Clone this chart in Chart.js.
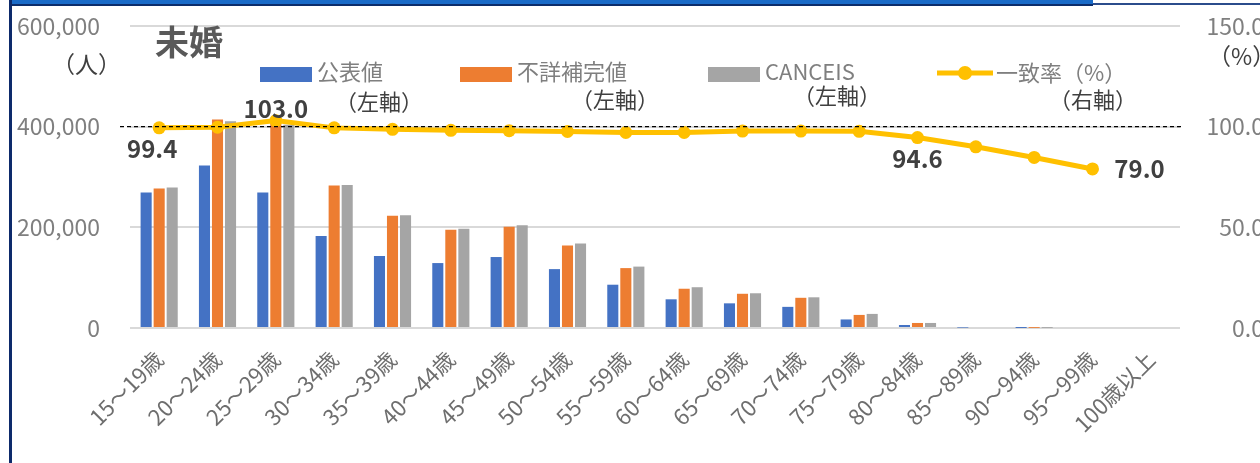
<!DOCTYPE html>
<html lang="ja">
<head>
<meta charset="UTF-8" />
<title>未婚</title>
<script src="https://cdn.jsdelivr.net/npm/chart.js"></script>
<style>
  body { margin: 0; overflow: hidden; background: #fff; }
  .frame { position: relative; width: 1260px; height: 463px; overflow: hidden; }
  .top-bar { position: absolute; left: 9px; top: 0; width: 1084px; height: 4px; background: #1a6bc8; border-bottom: 2px solid #0c2d6b; }
  .top-line { position: absolute; left: 1093px; top: 3px; width: 167px; height: 2px; background: #2b4c8c; }
  .left-line { position: absolute; left: 9px; top: 0; width: 2.5px; height: 463px; background: #0d2a6b; }
  #chart { position: absolute; left: 0; top: 0; }
</style>
</head>
<body>
<div class="frame">
  <canvas id="chart" width="1264" height="463"></canvas>
  <div class="top-bar"></div>
  <div class="top-line"></div>
  <div class="left-line"></div>
</div>
<script>
  const ageLabels = ['15～19歳', '20～24歳', '25～29歳', '30～34歳', '35～39歳', '40～44歳', '45～49歳',
    '50～54歳', '55～59歳', '60～64歳', '65～69歳', '70～74歳', '75～79歳', '80～84歳', '85～89歳',
    '90～94歳', '95～99歳', '100歳以上'];

  // 人数（左軸）
  const publishedValues = [269000, 323000, 269000, 183000, 143000, 129000, 141000, 117000, 86000,
    57000, 49000, 42000, 17000, 6000, 800, 100, 0, 0];
  const imputedValues = [277000, 414000, 407000, 283000, 223000, 195000, 201000, 164000, 119000,
    78000, 68000, 60000, 26000, 10000, 2000, 300, 0, 0];
  const canceisValues = [279000, 411000, 404000, 284000, 224000, 197000, 204000, 168000, 122000,
    81000, 69000, 61000, 28000, 10000, 2000, 300, 0, 0];

  // 一致率（右軸）
  const matchRate = [99.4, 99.7, 103.0, 99.4, 98.7, 98.2, 98.0, 97.6, 97.1, 97.1, 97.8, 97.8, 97.7,
    94.6, 90.0, 84.7, 79.0, null];
  const labeledPoints = [0, 2, 13, 16];
  const referenceRate = 100;

  const chartFont = "'Noto Sans CJK JP', 'Noto Sans', sans-serif";

  const overlayPlugin = {
    id: 'overlay',
    afterDatasetsDraw(chart) {
      const ctx = chart.ctx;
      const area = chart.chartArea;
      const y = chart.scales.yRight.getPixelForValue(referenceRate);
      ctx.save();
      ctx.strokeStyle = '#000';
      ctx.lineWidth = 1.3;
      ctx.setLineDash([4, 3]);
      ctx.beginPath();
      ctx.moveTo(area.left - 10, y);
      ctx.lineTo(area.right + 2, y);
      ctx.stroke();
      ctx.restore();
    },
    afterDraw(chart) {
      const ctx = chart.ctx;
      ctx.save();

      // title + units
      ctx.fillStyle = '#595959';
      ctx.font = 'bold 34px ' + chartFont;
      ctx.textBaseline = 'middle';
      ctx.textAlign = 'left';
      ctx.fillText('未婚', 155, 42);
      ctx.fillStyle = '#404040';
      ctx.font = '23px ' + chartFont;
      ctx.fillText('（人）', 52, 64);
      ctx.fillText('（%）', 1208, 56);

      // match-rate labels
      const meta = chart.getDatasetMeta(0);
      const offsets = { 0: [-7, 21], 2: [0, -12], 13: [0, 21], 16: [47, 0] };
      ctx.font = 'bold 24px ' + chartFont;
      ctx.fillStyle = '#404040';
      ctx.textAlign = 'center';
      labeledPoints.forEach(i => {
        const pt = meta.data[i];
        const off = offsets[i];
        ctx.fillText(matchRate[i].toFixed(1), pt.x + off[0], pt.y + off[1]);
      });

      // legend
      const ds = chart.data.datasets;
      const items = [
        { d: ds[1], x: 260, sub: '（左軸）', subX: 335, subY: 102 },
        { d: ds[2], x: 460, sub: '（左軸）', subX: 571, subY: 100 },
        { d: ds[3], x: 708, sub: '（左軸）', subX: 793, subY: 96 }
      ];
      ctx.textAlign = 'left';
      items.forEach(it => {
        ctx.fillStyle = it.d.backgroundColor;
        ctx.fillRect(it.x, 67, 52, 15);
        ctx.fillStyle = '#7F7F7F';
        ctx.font = '22px ' + chartFont;
        ctx.fillText(it.d.label, it.x + 57, 72);
        ctx.fillStyle = '#404040';
        ctx.fillText(it.sub, it.subX, it.subY);
      });
      const line = ds[0];
      ctx.strokeStyle = line.borderColor;
      ctx.lineWidth = 5;
      ctx.beginPath();
      ctx.moveTo(937, 73);
      ctx.lineTo(993, 73);
      ctx.stroke();
      ctx.fillStyle = line.borderColor;
      ctx.beginPath();
      ctx.arc(965, 73, 7, 0, Math.PI * 2);
      ctx.fill();
      ctx.fillStyle = '#7F7F7F';
      ctx.font = '22px ' + chartFont;
      ctx.fillText(line.label, 996, 73);
      ctx.fillStyle = '#404040';
      ctx.fillText('（右軸）', 1049, 100);

      ctx.restore();
    }
  };

  new Chart(document.getElementById('chart'), {
    data: {
      labels: ageLabels,
      datasets: [
        {
          type: 'line',
          label: '一致率（%）',
          data: matchRate,
          yAxisID: 'yRight',
          borderColor: '#FFC000',
          backgroundColor: '#FFC000',
          borderWidth: 5,
          pointRadius: 6.5,
          pointHoverRadius: 6.5,
          pointBackgroundColor: '#FFC000',
          pointBorderWidth: 0,
          spanGaps: false,
          order: 0
        },
        {
          type: 'bar',
          label: '公表値',
          data: publishedValues,
          yAxisID: 'yLeft',
          backgroundColor: '#4472C4',
          categoryPercentage: 0.67,
          barPercentage: 0.85,
          order: 1
        },
        {
          type: 'bar',
          label: '不詳補完値',
          data: imputedValues,
          yAxisID: 'yLeft',
          backgroundColor: '#ED7D31',
          categoryPercentage: 0.67,
          barPercentage: 0.85,
          order: 1
        },
        {
          type: 'bar',
          label: 'CANCEIS',
          data: canceisValues,
          yAxisID: 'yLeft',
          backgroundColor: '#A5A5A5',
          categoryPercentage: 0.67,
          barPercentage: 0.85,
          order: 1
        }
      ]
    },
    options: {
      responsive: false,
      animation: false,
      devicePixelRatio: 1,
      layout: { padding: { top: 26, left: 0, right: 0, bottom: 0 } },
      plugins: {
        legend: { display: false },
        tooltip: { enabled: false }
      },
      scales: {
        x: {
          grid: { display: false },
          border: { display: false },
          ticks: {
            color: '#6E6E6E',
            font: { family: chartFont, size: 22 },
            minRotation: 45,
            maxRotation: 45,
            padding: 10,
            autoSkip: false
          },
          afterFit(scale) { scale.height = 135; }
        },
        yLeft: {
          position: 'left',
          min: 0,
          max: 600000,
          border: { display: false },
          grid: { color: '#D9D9D9', lineWidth: 2, drawTicks: true, tickLength: 30, tickColor: 'rgba(0,0,0,0)' },
          ticks: {
            stepSize: 200000,
            color: '#7F7F7F',
            padding: 0,
            font: { family: chartFont, size: 23 },
            callback: v => v.toLocaleString('en-US')
          },
          afterFit(scale) { scale.width = 130; }
        },
        yRight: {
          position: 'right',
          min: 0,
          max: 150,
          border: { display: false },
          grid: { display: true, drawOnChartArea: false, drawTicks: true, tickLength: 10, tickColor: 'rgba(0,0,0,0)' },
          ticks: {
            stepSize: 50,
            color: '#7F7F7F',
            padding: 0,
            crossAlign: 'far',
            font: { family: chartFont, size: 23 },
            callback: v => v.toFixed(1)
          },
          afterFit(scale) { scale.width = 84; }
        }
      }
    },
    plugins: [overlayPlugin]
  });
</script>
</body>
</html>
